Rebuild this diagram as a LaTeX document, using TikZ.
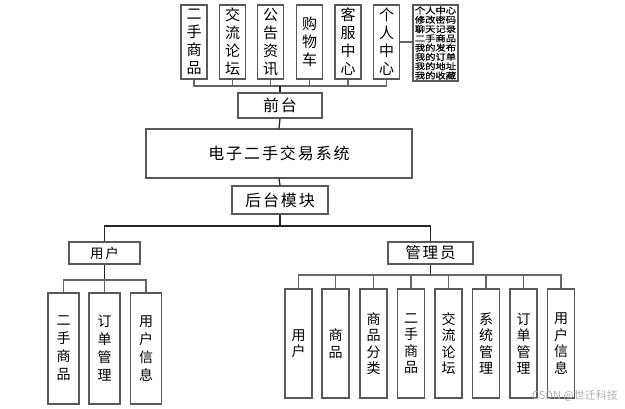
\documentclass[tikz,border=0pt]{standalone}
\usepackage{fontspec}
\newfontfamily\cjk{Noto Sans CJK SC}
\newfontfamily\cjkls{Noto Sans CJK SC}[LetterSpace=12]
\newfontfamily\cjkw{Noto Sans CJK SC}[FakeStretch=1.2,FakeBold=0.6]
\begin{document}
\begin{tikzpicture}[x=1pt,y=-1pt,
  box/.style={draw=black!65,line width=1.3pt,fill=white,inner sep=0pt,align=center,anchor=center},
  topbox/.style={box,minimum width=26pt,minimum height=74pt,font=\cjk\fontsize{15}{18}\selectfont},
  lbox/.style={box,minimum width=31pt,minimum height=111pt,font=\cjk\fontsize{14}{18}\selectfont},
  rbox/.style={box,minimum width=27pt,minimum height=109pt,font=\cjk\fontsize{14}{16.5}\selectfont},
  hbox/.style={box,font=\cjkls\fontsize{16}{18}\selectfont},
  conn/.style={draw=black!60,line width=1.3pt},
  connd/.style={draw=black!85,line width=1.3pt}]
\useasboundingbox[fill=white] (0,0) rectangle (625,408);
% top level
\node[topbox] (t1) at (194,42) {二\\手\\商\\品};
\node[topbox] (t2) at (232.5,42) {交\\流\\论\\坛};
\node[topbox] (t3) at (270.5,42) {公\\告\\资\\讯};
\node[topbox] (t4) at (309.5,42) {购\\物\\车};
\node[topbox] (t5) at (348,42) {客\\服\\中\\心};
\node[topbox] (t6) at (386.5,42) {个\\人\\中\\心};
\node[box,minimum width=45pt,minimum height=76pt,font=\cjkw\fontsize{8.6}{9.3}\selectfont] (side) at (435.5,43)
  {个人中心\\修改密码\\聊天记录\\二手商品\\我的发布\\我的订单\\我的地址\\我的收藏};
\node[hbox,minimum width=84pt,minimum height=25pt] (qt) at (280,105.5) {前台};
\node[hbox,minimum width=266pt,minimum height=49pt] (sys) at (279,153.5) {电子二手交易系统};
\node[hbox,minimum width=96pt,minimum height=28pt] (ht) at (280,200) {后台模块};
\node[box,minimum width=71pt,minimum height=22pt,font=\cjkls\fontsize{13.5}{16}\selectfont] (yh) at (104.5,253) {用户};
\node[box,minimum width=85pt,minimum height=22pt,font=\cjkls\fontsize{15.5}{18}\selectfont] (gl) at (430.5,253) {管理员};
% left leaves
\node[lbox] (l1) at (63.5,348.5) {二\\手\\商\\品};
\node[lbox] (l2) at (104.5,348.5) {订\\单\\管\\理};
\node[lbox] (l3) at (146,348.5) {用\\户\\信\\息};
% right leaves
\node[rbox] (r1) at (298.5,343.5) {用\\户};
\node[rbox] (r2) at (335.5,343.5) {商\\品};
\node[rbox] (r3) at (373.5,343.5) {商\\品\\分\\类};
\node[rbox] (r4) at (411,343.5) {二\\手\\商\\品};
\node[rbox] (r5) at (448.5,343.5) {交\\流\\论\\坛};
\node[rbox] (r6) at (486,343.5) {系\\统\\管\\理};
\node[rbox] (r7) at (523.5,343.5) {订\\单\\管\\理};
\node[rbox] (r8) at (561,343.5) {用\\户\\信\\息};
% bus coordinates
\coordinate (b1) at (280,86);
\coordinate (b2) at (280,226);
\coordinate (b3) at (104.5,280);
\coordinate (b4) at (430.5,275);
% top connectors
\draw[conn] (t1.south) |- (b1) -| (t6.south);
\foreach \n in {t2,t3,t4,t5} \draw[conn] (\n.south) -- (\n.south |- b1);
\draw[conn] (t6.east) -- (side.west |- t6.east);
\draw[connd] (b1) -- (qt.north);
\draw[connd] (qt.south) -- (sys.north);
\draw[connd] (sys.south) -- (ht.north);
\draw[connd] (ht.south) -- (b2);
\draw[connd] (yh.north) |- (b2) -| (gl.north);
% left group
\draw[connd] (yh.south) -- (b3);
\draw[conn] (l1.north) |- (b3) -| (l3.north);
\draw[conn] (l2.north) -- (b3);
% right group
\draw[connd] (gl.south) -- (b4);
\draw[conn] (r1.north) |- (b4) -| (r8.north);
\foreach \n in {r2,r3,r4,r5,r6,r7} \draw[conn] (\n.north) -- (\n.north |- b4);
% watermark
\node[font=\cjk\fontsize{11}{12}\selectfont,text=black!30,inner sep=0pt] (wm) at (575,396) {CSDN @世迁科技};
\end{tikzpicture}
\end{document}
